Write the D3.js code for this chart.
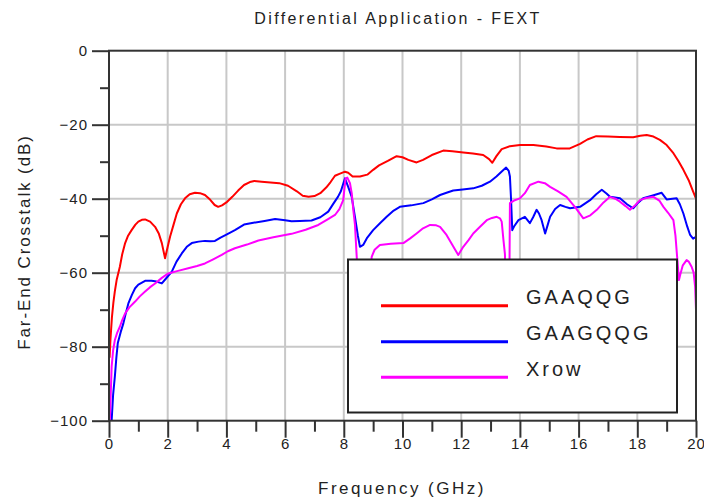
<!DOCTYPE html>
<html><head><meta charset="utf-8">
<script src="https://cdn.jsdelivr.net/npm/d3@7/dist/d3.min.js"></script>
<style>body{margin:0;background:#fff}svg{display:block}text{font-family:"Liberation Sans",Arial,sans-serif;fill:#222}</style>
</head><body><svg id="c" width="704" height="499"></svg>
<script>
const title = "Differential Application - FEXT";
const xLabel = "Frequency (GHz)";
const yLabel = "Far-End Crosstalk (dB)";
const xTicks = [0,2,4,6,8,10,12,14,16,18,20];
const yTicks = [0,-20,-40,-60,-80,-100];
const seriesNames = ["GAAQQG","GAAGQQG","Xrow"];
const seriesColors = ["#ff0000","#0000ff","#ff00ff"];

const redF = [0.02,0.05,0.1,0.15,0.2,0.26,0.37,0.45,0.55,0.65,0.77,0.9,1.0,1.12,1.23,1.4,1.57,1.7,1.8,1.91,2.0,2.08,2.2,2.31,2.45,2.59,2.75,2.93,3.1,3.27,3.45,3.6,3.72,3.85,4.0,4.2,4.4,4.6,4.8,4.95,5.2,5.5,5.8,6.1,6.4,6.6,6.8,7.0,7.2,7.4,7.55,7.7,7.85,8.04,8.15,8.3,8.55,8.8,9.0,9.2,9.5,9.8,10.0,10.2,10.48,10.7,11.0,11.39,11.7,12.07,12.4,12.75,12.95,13.06,13.2,13.38,13.66,14.0,14.46,14.9,15.25,15.7,16.05,16.3,16.6,17.0,17.4,17.86,18.1,18.32,18.55,18.77,19.0,19.23,19.4,19.57,19.75,19.9,20];
const redDB = [-83,-78,-72,-68,-65,-62,-58.4,-55,-52,-50,-48.5,-47,-46.2,-45.7,-45.6,-46.2,-47.6,-49.5,-52,-56.1,-53,-50.3,-47,-44,-41.5,-39.9,-38.8,-38.4,-38.5,-39,-40.3,-41.7,-42.2,-41.8,-41,-39.5,-37.8,-36.3,-35.5,-35.2,-35.4,-35.6,-35.8,-36.5,-38,-39.2,-39.5,-39.3,-38.5,-37,-35.5,-33.8,-33.3,-32.7,-33,-34,-34,-33.5,-32.2,-31,-29.8,-28.5,-28.8,-29.5,-30.2,-29.5,-28.2,-27.0,-27.2,-27.5,-27.8,-28.2,-29.3,-30.3,-28.5,-26.6,-25.8,-25.5,-25.5,-25.9,-26.4,-26.4,-25.2,-24,-23.1,-23.2,-23.3,-23.4,-23,-22.8,-23.2,-24.1,-25.5,-27.7,-29.8,-32.2,-35,-38,-40];

const blueF = [0.09,0.14,0.2,0.25,0.3,0.4,0.49,0.57,0.66,0.78,0.89,1.0,1.23,1.45,1.62,1.8,1.95,2.14,2.3,2.48,2.65,2.82,3.05,3.27,3.45,3.61,3.8,4.0,4.29,4.6,4.92,5.3,5.66,6.0,6.22,6.5,6.9,7.2,7.47,7.64,7.8,7.9,8.04,8.15,8.27,8.38,8.48,8.55,8.66,8.8,9.0,9.25,9.46,9.7,9.91,10.3,10.71,11.0,11.28,11.5,11.73,12.05,12.41,12.7,12.98,13.2,13.4,13.53,13.62,13.66,13.7,13.74,13.8,13.95,14.17,14.34,14.45,14.57,14.65,14.74,14.86,14.95,15.03,15.2,15.37,15.55,15.71,16.05,16.39,16.6,16.79,16.95,17.07,17.41,17.65,17.86,18.0,18.2,18.5,18.83,19.0,19.2,19.34,19.45,19.57,19.7,19.8,19.9,20];
const blueDB = [-100,-93,-88,-83,-79,-76,-73.7,-71,-68.3,-66,-64.2,-63.2,-62.2,-62.2,-62.4,-62.9,-61.5,-59.7,-57,-54.8,-53,-52,-51.6,-51.4,-51.5,-51.4,-50.5,-49.7,-48.5,-47,-46.5,-46,-45.5,-45.8,-46.1,-46,-45.9,-45,-43.5,-41.4,-39.5,-38,-34.5,-36.8,-39.5,-44.9,-50,-53,-52.5,-50.5,-48.5,-46.5,-44.9,-43.2,-42.2,-41.8,-41.2,-40.2,-39,-38.4,-37.8,-37.5,-37.2,-36.5,-35.4,-34,-32.5,-31.6,-32.5,-34,-40.4,-48.5,-47.5,-45.8,-44.9,-46.6,-45,-43,-44,-45.8,-49.4,-47,-44.9,-42.8,-41.7,-42.2,-42.6,-42.2,-40.4,-38.8,-37.6,-38.6,-39.5,-39.9,-41.5,-42.6,-41.3,-39.9,-39.2,-38.4,-40.2,-40,-39.9,-41.5,-44,-47.5,-49.8,-50.8,-50.3];

const magF = [0.03,0.05,0.09,0.14,0.2,0.28,0.37,0.45,0.55,0.7,0.89,1.05,1.23,1.4,1.57,1.8,2.02,2.35,2.7,3.0,3.27,3.55,3.84,4.05,4.29,4.7,5.09,5.6,6.22,6.7,7.13,7.45,7.7,7.85,7.98,8.06,8.12,8.21,8.27,8.33,8.38,8.44,8.5,8.85,8.95,9.05,9.23,9.6,10.03,10.25,10.48,10.7,10.94,11.15,11.28,11.5,11.7,11.9,12.07,12.25,12.41,12.65,12.87,13.05,13.21,13.32,13.38,13.44,13.49,13.52,13.64,13.66,13.8,14.0,14.17,14.34,14.63,14.85,15.03,15.3,15.59,15.9,16.16,16.4,16.62,16.85,17.07,17.25,17.41,17.6,17.75,17.9,18.09,18.3,18.55,18.75,18.89,19.05,19.23,19.3,19.36,19.42,19.46,19.55,19.68,19.75,19.85,19.92,19.97,20];
const magDB = [-100,-95,-85.4,-81,-78.2,-76.2,-74.6,-72.8,-71,-69.3,-67.8,-66.4,-65.1,-63.9,-62.9,-61.4,-60.2,-59.5,-58.8,-58.2,-57.5,-56.4,-55.2,-54.2,-53.4,-52.4,-51.3,-50.4,-49.5,-48.4,-47.1,-45.6,-44.4,-42.8,-40.4,-34.5,-34.3,-35.8,-38.5,-43.5,-47,-55.7,-65,-65,-55.7,-53.8,-52.5,-52.2,-52,-50.8,-49.4,-48,-47.1,-47.2,-47.6,-49.8,-52.5,-55.2,-53,-51.2,-49.4,-47.5,-45.8,-45.2,-44.9,-45.3,-46.2,-51.2,-55,-65,-65,-41.2,-40.5,-39.9,-38.5,-36.3,-35.4,-35.8,-36.8,-38,-39.5,-42.5,-45.3,-44.5,-43,-41,-39.5,-40,-40.8,-42,-43,-42,-40.4,-39.8,-39.5,-40.5,-42.2,-43.8,-45.8,-50,-56,-62,-60.6,-58,-56.6,-57,-58.4,-60,-63.8,-70];

const series = [
  {name: seriesNames[0], color: seriesColors[0], f: redF, v: redDB},
  {name: seriesNames[1], color: seriesColors[1], f: blueF, v: blueDB},
  {name: seriesNames[2], color: seriesColors[2], f: magF, v: magDB}
];

const svg = d3.select("#c");
const L = 109, R = 696, T = 50.7, B = 420.7;
const x = d3.scaleLinear().domain([0,20]).range([L,R]);
const y = d3.scaleLinear().domain([-100,0]).range([B,T]);

// grid
const grid = svg.append("g");
grid.selectAll("line.v").data(xTicks.slice(1,-1)).enter().append("line")
  .attr("x1", d=>x(d)).attr("x2", d=>x(d)).attr("y1", T).attr("y2", B)
  .attr("stroke","#c8c8c8").attr("stroke-width",2);
grid.selectAll("line.h").data(yTicks.slice(1,-1)).enter().append("line")
  .attr("x1", L).attr("x2", R).attr("y1", d=>y(d)).attr("y2", d=>y(d))
  .attr("stroke","#c8c8c8").attr("stroke-width",2);

svg.append("defs").append("clipPath").attr("id","clip").append("rect")
  .attr("x",L).attr("y",T).attr("width",R-L).attr("height",B-T);

const line = d3.line().x(d=>x(d[0])).y(d=>y(d[1]));
const plot = svg.append("g").attr("clip-path","url(#clip)");
series.forEach(s=>{
  plot.append("path").datum(s.f.map((f,i)=>[f,s.v[i]]))
    .attr("d", line).attr("fill","none").attr("stroke", s.color)
    .attr("stroke-width",2).attr("stroke-linejoin","round");
});

// frame
svg.append("rect").attr("x",L).attr("y",T).attr("width",R-L).attr("height",B-T)
  .attr("fill","none").attr("stroke","#333").attr("stroke-width",2);

// axes
const xAxis = d3.axisBottom(x).tickValues(xTicks).tickSize(17).tickPadding(1).tickFormat(d3.format("d"));
const gx = svg.append("g").attr("transform",`translate(0,${B})`).call(xAxis);
gx.select(".domain").remove();
gx.selectAll("line").attr("stroke","#333").attr("stroke-width",2);
gx.selectAll("text").attr("font-size",15).style("letter-spacing","1px").attr("fill","#222")
  .attr("font-family",'"Liberation Sans",Arial,sans-serif');
const xMinor = d3.axisBottom(x).tickValues(d3.range(1,20,2)).tickSize(11).tickFormat("");
const gxm = svg.append("g").attr("transform",`translate(0,${B})`).call(xMinor);
gxm.select(".domain").remove();
gxm.selectAll("line").attr("stroke","#333").attr("stroke-width",2);

const yAxis = d3.axisLeft(y).tickValues(yTicks).tickSize(17).tickPadding(4).tickFormat(d3.format("d"));
const gy = svg.append("g").attr("transform",`translate(${L},0)`).call(yAxis);
gy.select(".domain").remove();
gy.selectAll("line").attr("stroke","#333").attr("stroke-width",2);
gy.selectAll("text").attr("font-size",15).style("letter-spacing","1px").attr("fill","#222")
  .attr("font-family",'"Liberation Sans",Arial,sans-serif');
const yMinor = d3.axisLeft(y).tickValues(d3.range(-90,0,20)).tickSize(9).tickFormat("");
const gym = svg.append("g").attr("transform",`translate(${L},0)`).call(yMinor);
gym.select(".domain").remove();
gym.selectAll("line").attr("stroke","#333").attr("stroke-width",2);

// titles
svg.append("text").attr("x",398).attr("y",24).attr("text-anchor","middle")
  .attr("font-size",16).style("letter-spacing","2.4px").text(title);
svg.append("text").attr("x",402).attr("y",494).attr("text-anchor","middle")
  .attr("font-size",17).style("letter-spacing","2.5px").text(xLabel);
svg.append("text").attr("transform","translate(30,242) rotate(-90)").attr("text-anchor","middle")
  .attr("font-size",17).style("letter-spacing","1.9px").text(yLabel);

// legend
const lg = svg.append("g");
lg.append("rect").attr("x",348).attr("y",259.5).attr("width",329).attr("height",153)
  .attr("fill","#fff").attr("stroke","#222").attr("stroke-width",2);
const legY = [305.7, 341.7, 377.3];
series.forEach((s,i)=>{
  lg.append("line").attr("x1",381).attr("x2",508).attr("y1",legY[i]).attr("y2",legY[i])
    .attr("stroke",s.color).attr("stroke-width",3);
  lg.append("text").attr("x",526).attr("y",legY[i]-1.5).attr("font-size",20)
    .style("letter-spacing","3px").text(s.name);
});
</script></body></html>
